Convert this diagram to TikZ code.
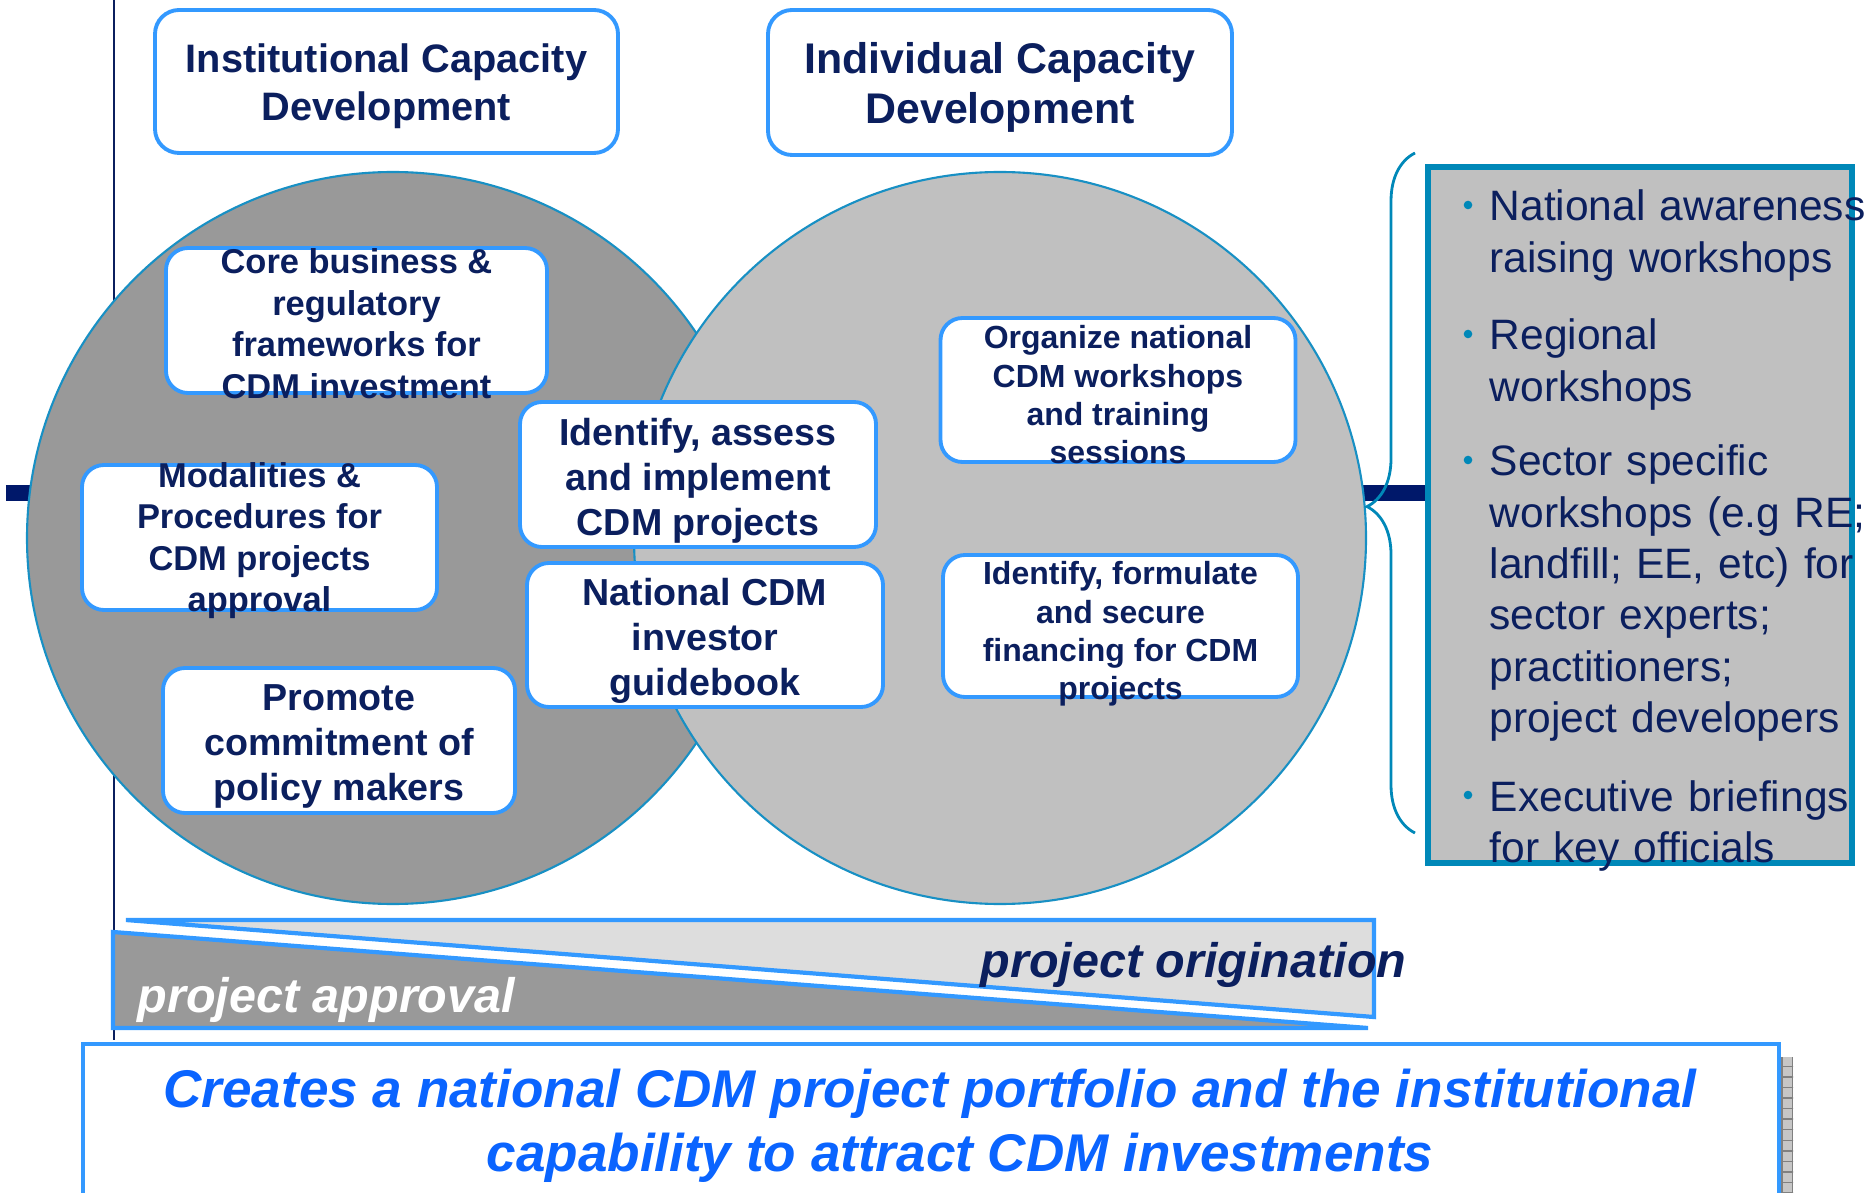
\documentclass[tikz,border=0pt]{standalone}
\usepackage{fontspec}
\setmainfont{Liberation Sans}
\usepackage{xcolor}
\usepackage{tikz}
\usetikzlibrary{positioning, decorations.pathreplacing, patterns}

\definecolor{navy}{HTML}{0B1F5E}
\definecolor{barnavy}{HTML}{00186A}
\definecolor{boxblue}{HTML}{3399FF}
\definecolor{ringblue}{HTML}{1890C4}
\definecolor{panelteal}{HTML}{0088B8}
\definecolor{darkgrey}{HTML}{999999}
\definecolor{midgrey}{HTML}{C0C0C0}
\definecolor{lightgrey}{HTML}{DDDDDD}
\definecolor{brightblue}{HTML}{0A64FF}

\begin{document}
\begin{tikzpicture}[
    titlebox/.style={draw=boxblue, line width=1.1pt, rounded corners=0.24cm, fill=white,
        minimum width=4.63cm, minimum height=1.43cm, inner sep=0pt},
    titletext/.style={text=navy, align=center, inner sep=0pt, yshift=-0.05cm,
        font=\fontsize{11.3}{13.7}\selectfont\bfseries},
    inbox/.style={draw=boxblue, line width=1.1pt, rounded corners=0.22cm, fill=white,
        minimum width=3.55cm, minimum height=1.45cm, inner sep=0pt},
    boxtext/.style={text=navy, align=center, inner sep=0pt, yshift=-0.03cm,
        font=\fontsize{9.8}{11.8}\selectfont\bfseries},
    bigtext/.style={boxtext, yshift=-0.03cm, font=\fontsize{10.7}{12.8}\selectfont\bfseries},
    smalltext/.style={boxtext, yshift=-0.02cm, font=\fontsize{9.1}{10.9}\selectfont\bfseries},
    itemtext/.style={text=navy, anchor=base west, text width=4.3cm, align=left, inner sep=0pt,
        font=\fontsize{12.1}{14.6}\selectfont},
    wedgetext/.style={anchor=base west, inner sep=0pt, font=\fontsize{13.8}{16}\selectfont\bfseries\itshape},
]
    \useasboundingbox (0,0) rectangle (18.74,-11.93);

    % Axis line and bar behind the circles
    \draw[navy, line width=0.45pt] (1.14,0) -- (1.14,-10.40);
    \draw[barnavy, line width=4.7pt] (0.06,-4.93) -- (14.28,-4.93);

    % The two capacity circles
    \filldraw[fill=darkgrey, draw=ringblue, line width=0.6pt] (3.93,-5.38) circle (3.66);
    \filldraw[fill=midgrey, draw=ringblue, line width=0.6pt] (10.00,-5.38) circle (3.66);

    % Headings
    \node[titlebox] (inst) at (3.865,-0.815) {};
    \node[titletext] (inst-t) at (inst) {Institutional Capacity\\Development};
    \node[titlebox, minimum width=4.64cm, minimum height=1.45cm] (indiv) at (10.00,-0.825) {};
    \node[titletext, font=\fontsize{12.2}{14.3}\selectfont\bfseries] (indiv-t) at (indiv) {Individual Capacity\\Development};

    % Institutional activities
    \node[inbox, minimum width=3.81cm] (core) at (3.565,-3.205) {};
    \node[boxtext] (core-t) at (core) {Core business \&\\regulatory\\frameworks for\\CDM investment};
    \node[inbox] (modal) at (2.595,-5.375) {};
    \node[boxtext] (modal-t) at (modal) {Modalities \&\\Procedures for\\CDM projects\\approval};
    \node[inbox, minimum width=3.52cm] (promote) at (3.39,-7.405) {};
    \node[bigtext] (promote-t) at (promote) {Promote\\commitment of\\policy makers};

    % Shared activities
    \node[inbox, minimum width=3.56cm] (identify) at (6.98,-4.745) {};
    \node[bigtext] (identify-t) at (identify) {Identify, assess\\and implement\\CDM projects};
    \node[inbox, minimum width=3.56cm, minimum height=1.44cm] (guide) at (7.05,-6.35) {};
    \node[bigtext] (guide-t) at (guide) {National CDM\\investor\\guidebook};

    % Individual activities
    \node[inbox, minimum height=1.44cm] (organize) at (11.18,-3.90) {};
    \node[smalltext] (organize-t) at (organize) {Organize national\\CDM workshops\\and training\\sessions};
    \node[inbox, minimum height=1.42cm] (finance) at (11.205,-6.26) {};
    \node[smalltext, yshift=-0.03cm] (finance-t) at (finance) {Identify, formulate\\and secure\\financing for CDM\\projects};

    % Brace and list of workshops
    \draw[panelteal, line width=0.8pt, decorate, decoration={brace, amplitude=0.48cm, aspect=0.48}]
        (14.15,-8.33) -- (14.15,-1.53);
    \filldraw[fill=midgrey, draw=panelteal, line width=1.5pt] (14.28,-1.67) rectangle (18.52,-8.63);

    \node[itemtext] (item1) at (14.89,-2.21) {National awareness\\raising workshops};
    \node[itemtext] (item2) at (14.89,-3.50) {Regional\\workshops};
    \node[itemtext] (item3) at (14.89,-4.76) {Sector specific\\workshops (e.g RE;\\landfill; EE, etc) for\\sector experts;\\practitioners;\\project developers};
    \node[itemtext] (item4) at (14.89,-8.11) {Executive briefings\\for key officials};
    \foreach \i in {1,...,4}
        \fill[panelteal] ([xshift=-0.21cm, yshift=0.16cm]item\i.base west) circle (0.043);

    % Approval / origination wedges
    \filldraw[fill=lightgrey, draw=boxblue, line width=1.2pt] (1.26,-9.20) -- (13.74,-9.20) -- (13.74,-10.17) -- cycle;
    \filldraw[fill=darkgrey, draw=boxblue, line width=1.2pt] (1.13,-9.32) -- (13.68,-10.28) -- (1.13,-10.28) -- cycle;
    \node[wedgetext, text=white] (approval) at (1.37,-10.12) {project approval};
    \node[wedgetext, text=navy] (origination) at (9.80,-9.77) {project origination};

    % Outcome box
    \fill[gray!45] (17.77,-10.57) rectangle (17.93,-11.93);
    \fill[pattern=grid, pattern color=gray] (17.77,-10.57) rectangle (17.93,-11.93);
    \node[draw=boxblue, line width=1.1pt, fill=white, anchor=north west, minimum width=16.96cm,
        minimum height=2.0cm, inner sep=0pt] (outcome) at (0.81,-10.42) {};
    \node[text=brightblue, align=center, inner sep=0pt, font=\fontsize{15.1}{18.2}\selectfont\bfseries\itshape]
        (outcome-t) at (9.30,-11.255) {Creates a national CDM project portfolio and the institutional\\\hspace*{0.6cm}capability to attract CDM investments};
\end{tikzpicture}
\end{document}
